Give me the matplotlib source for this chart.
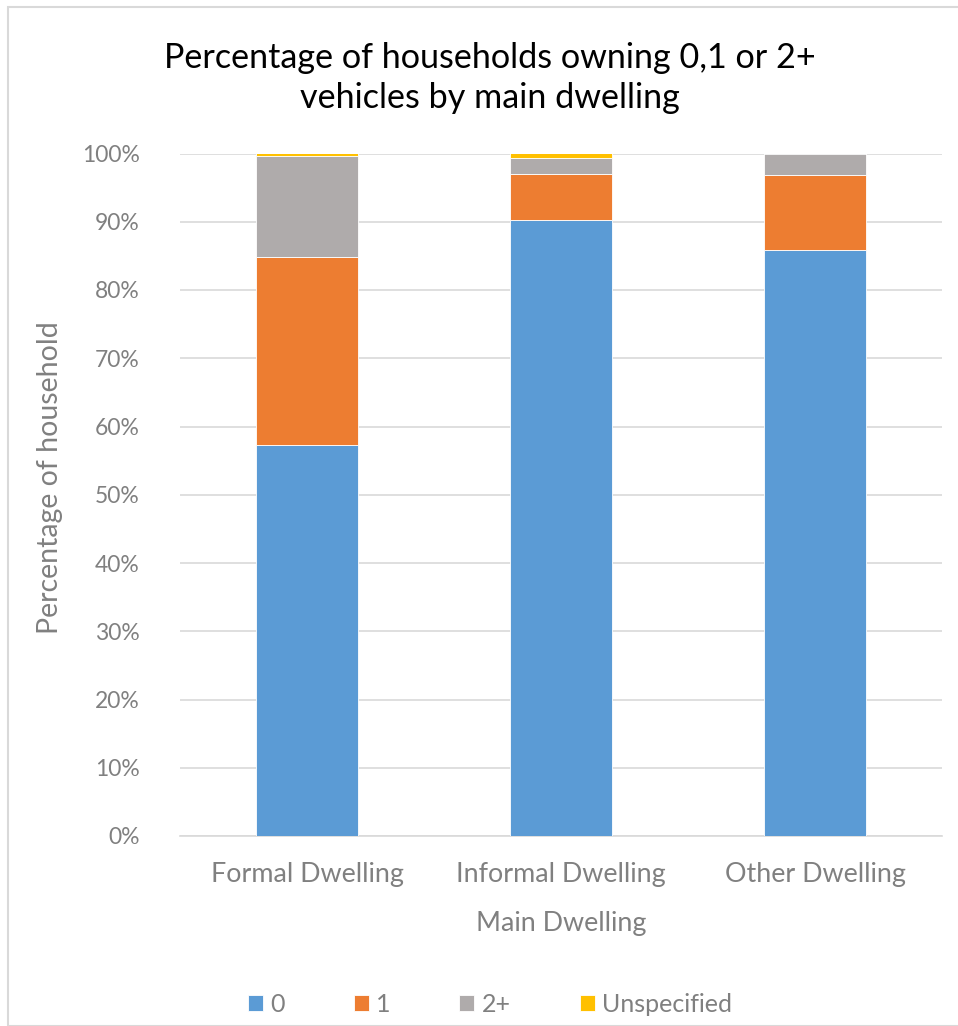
import matplotlib
matplotlib.use("Agg")
import matplotlib.pyplot as plt
from matplotlib.patches import Rectangle
from matplotlib.ticker import PercentFormatter
import numpy as np

categories = ["Formal Dwelling", "Informal Dwelling", "Other Dwelling"]
series_names = ["0", "1", "2+", "Unspecified"]
v0 = [57.3, 90.3, 85.8]
v1 = [27.5, 6.7, 11.0]
v2 = [14.8, 2.4, 3.2]
vu = [0.4, 0.6, 0.0]
colors = ["#5B9BD5", "#ED7D31", "#AFABAB", "#FFC000"]

plt.rcParams['font.family'] = ['Lato', 'DejaVu Sans']

W, H = 958, 1026
fig = plt.figure(figsize=(W / 100, H / 100), dpi=100)
fig.patch.set_facecolor("white")

# chart border (cropped at right/bottom)
fig.patches.append(Rectangle((8 / W, 0), 2, (H - 7) / H, transform=fig.transFigure,
                             fill=False, edgecolor="#D9D9D9", linewidth=1.5))

ax_left, ax_right, ax_top, ax_bottom = 180, 942, 153.5, 836
ax = fig.add_axes([ax_left / W, 1 - ax_bottom / H, (ax_right - ax_left) / W, (ax_bottom - ax_top) / H])
x = np.arange(len(categories))
bottom = np.zeros(len(categories))
for name, vals, c in zip(series_names, [v0, v1, v2, vu], colors):
    ax.bar(x, vals, width=0.4, bottom=bottom, color=c, label=name,
           edgecolor="white", linewidth=0.6, zorder=3)
    bottom += np.array(vals)

ax.set_ylim(0, 100)
ax.set_xlim(-0.5, 2.5)
ax.set_yticks(np.arange(0, 101, 10))
ax.yaxis.set_major_formatter(PercentFormatter(decimals=0))
ax.grid(axis="y", color="#D9D9D9", linewidth=1.2, zorder=0)
for s in ["top", "right", "left"]:
    ax.spines[s].set_visible(False)
ax.spines["bottom"].set_color("#D9D9D9")
ax.spines["bottom"].set_linewidth(1.2)
ax.tick_params(axis="both", length=0, labelcolor="#808080")
ax.tick_params(axis="y", pad=29, labelsize=16.5)
ax.tick_params(axis="x", pad=19, labelsize=19.4)
ax.set_xticks(x)
ax.set_xticklabels(categories)

ax.set_xlabel("Main Dwelling", fontsize=19.4, color="#808080", labelpad=17)
ax.set_ylabel("Percentage of household", fontsize=20.5, color="#808080")
ax.yaxis.set_label_coords((63 - ax_left) / (ax_right - ax_left),
                          (ax_bottom - 478) / (ax_bottom - ax_top))

fig.text(490 / W, 1 - 58 / H, "Percentage of households owning 0,1 or 2+",
         ha="center", va="center", fontsize=24.6, color="black")
fig.text(490 / W, 1 - 98 / H, "vehicles by main dwelling",
         ha="center", va="center", fontsize=24.6, color="black")

handles, labels = ax.get_legend_handles_labels()
leg = fig.legend(handles, labels, loc="center", bbox_to_anchor=(490 / W, 1 - 1004 / H),
                 ncol=4, frameon=False, fontsize=18, handlelength=0.6, handleheight=0.6,
                 handletextpad=0.3, columnspacing=2.75)
for t in leg.get_texts():
    t.set_color("#808080")

fig.savefig("out.png", dpi=100, facecolor="white")
